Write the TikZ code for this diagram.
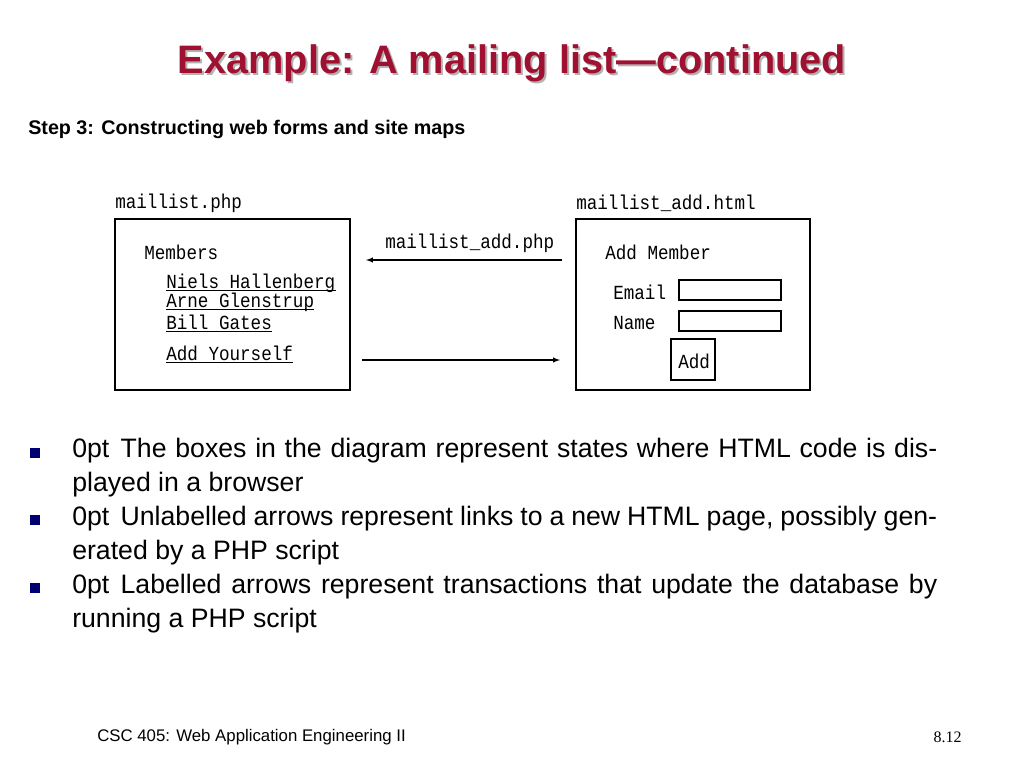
\documentclass[tikz,border=0pt]{standalone}
\usepackage{fontspec}
\setmainfont{Liberation Sans}
\newfontfamily\dmono[FakeStretch=0.88]{Liberation Mono}
\newfontfamily\serifn{Liberation Serif}
\begin{document}
\begin{tikzpicture}[x=0.75pt,y=-0.75pt,
  box/.style={draw,line width=1pt},
  mono/.style={font=\dmono\fontsize{15}{17}\selectfont,anchor=west,inner sep=0},
  ul/.style={line width=0.7pt},
  arr/.style={-latex,line width=0.8pt},
  bul/.style={fill=blue!45!black,minimum size=7pt,inner sep=0},
  btxt/.style={anchor=north west,inner sep=0,text width=865*0.75pt,align=justify,font=\fontsize{20}{25.5}\selectfont\hyphenpenalty=10000\exhyphenpenalty=10000}]
\useasboundingbox (0,0) rectangle (1024,768);
% title
\node[text=gray!60,font=\bfseries\fontsize{29.8}{34}\selectfont] at (514,65) {Example: A mailing list---continued};
\node[text={rgb,255:red,160;green,16;blue,48},font=\bfseries\fontsize{29.8}{34}\selectfont] (title) at (512,63) {Example: A mailing list---continued};
\node[anchor=west,inner sep=0,font=\bfseries\fontsize{14.8}{17}\selectfont] (step) at (28,129) {Step 3: Constructing web forms and site maps};
% diagram
\draw[box] (115,219) rectangle (350,390);
\draw[box] (576,219) rectangle (810,390);
\node[mono] (ln) at (115,203) {maillist.php};
\node[mono] (rn) at (576,203) {maillist\_add.html};
\node[mono] (mem) at (144,252) {Members};
\node[mono] (n1) at (166,283) {Niels Hallenberg};
\node[mono] (n2) at (166,302) {Arne Glenstrup};
\node[mono] (n3) at (166,322) {Bill Gates};
\node[mono] (n4) at (166,353) {Add Yourself};
\foreach \n in {n1,n2,n3,n4}{\draw[ul] ([yshift=-1.5pt]\n.base west) -- ([yshift=-1.5pt]\n.base east);}
\node[mono] (am) at (605,252) {Add Member};
\node[mono] (em) at (613,292) {Email};
\node[mono] (nm) at (613,323) {Name};
\draw[line width=0.8pt] (679,280) rectangle (781,300);
\draw[line width=0.8pt] (679,311) rectangle (781,331);
\draw[line width=0.8pt] (671,339) rectangle (715,380);
\node[mono] (add) at (678,361) {Add};
\node[mono] (lab) at (385,243) {maillist\_add.php};
\coordinate (a1) at (562,260); \coordinate (a2) at (366,260);
\coordinate (b1) at (362,360); \coordinate (b2) at (560,360);
\draw[arr] (a1) -- (a2);
\draw[arr] (b1) -- (b2);
% bullets
\node[bul] (s1) at (35,453) {};
\node[bul] (s2) at (35,520) {};
\node[bul] (s3) at (35,588) {};
\node[btxt] (t1) at (72,438) {\hspace*{8.5pt}The boxes in the diagram represent states where HTML code is displayed in a browser};
\node[btxt] (t2) at (72,506) {\hspace*{8.5pt}Unlabelled arrows represent links to a new HTML page, possibly generated by a PHP script};
\node[btxt] (t3) at (72,574) {\hspace*{8.5pt}Labelled arrows represent transactions that update the database by running a PHP script};
% footer
\node[anchor=west,inner sep=0,font=\fontsize{12.6}{14}\selectfont] (foot) at (97,737) {CSC 405: Web Application Engineering II};
\node[anchor=east,inner sep=0,font=\serifn\fontsize{12}{14}\selectfont] (pg) at (962,737) {8.12};
\end{tikzpicture}
\end{document}
